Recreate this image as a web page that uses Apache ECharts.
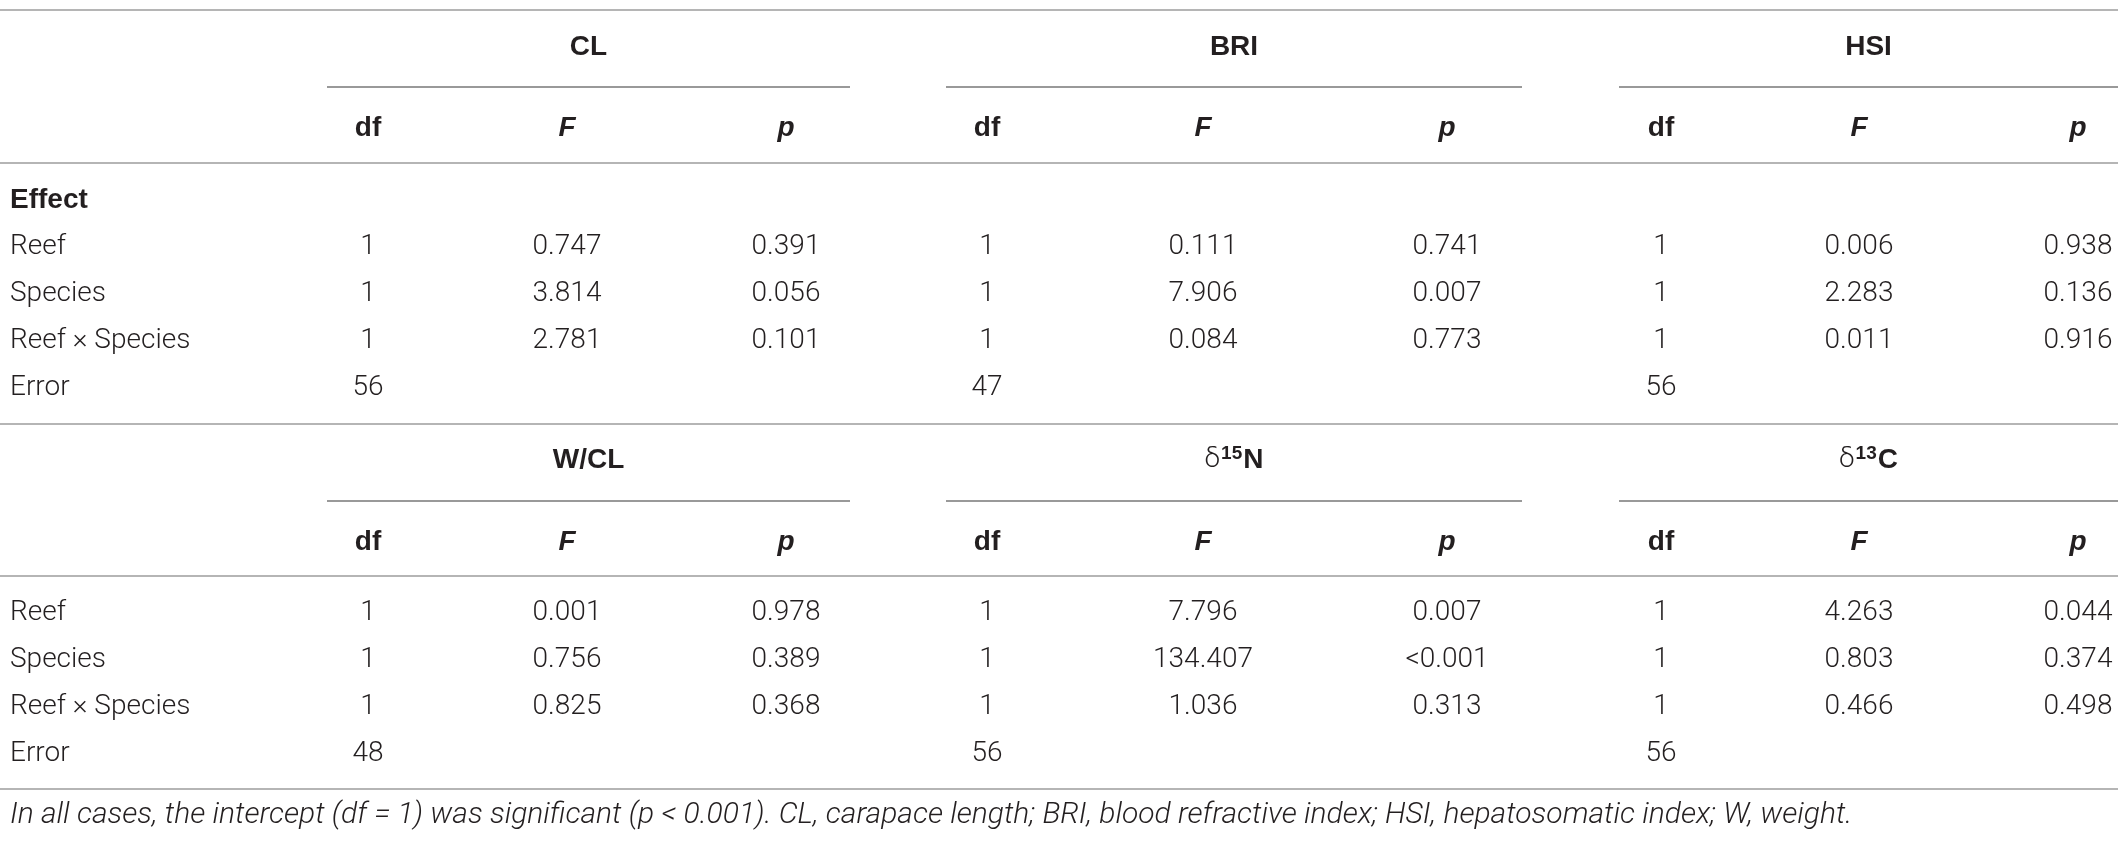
<!DOCTYPE html>
<html>
<head>
<meta charset="utf-8">
<script src="https://cdn.jsdelivr.net/npm/echarts@6/dist/echarts.min.js"></script>
<style>
  html, body { margin: 0; padding: 0; background: #fff; }
  #chart { width: 2128px; height: 844px; }
</style>
</head>
<body>
<div id="chart"></div>
<script>
// table content
var effects = ['Reef', 'Species', 'Reef × Species'];
var topMeasures = ['CL', 'BRI', 'HSI'];
var bottomMeasures = ['W/CL', 'δ15N', 'δ13C'];
var colHeads = ['df', 'F', 'p'];

var dfCL = [1, 1, 1], fCL = [0.747, 3.814, 2.781], pCL = [0.391, 0.056, 0.101], errCL = 56;
var dfBRI = [1, 1, 1], fBRI = [0.111, 7.906, 0.084], pBRI = [0.741, 0.007, 0.773], errBRI = 47;
var dfHSI = [1, 1, 1], fHSI = [0.006, 2.283, 0.011], pHSI = [0.938, 0.136, 0.916], errHSI = 56;
var dfWCL = [1, 1, 1], fWCL = [0.001, 0.756, 0.825], pWCL = [0.978, 0.389, 0.368], errWCL = 48;
var dfN15 = [1, 1, 1], fN15 = [7.796, 134.407, 1.036], pN15 = [0.007, '<0.001', 0.313], errN15 = 56;
var dfC13 = [1, 1, 1], fC13 = [4.263, 0.803, 0.466], pC13 = [0.044, 0.374, 0.498], errC13 = 56;

var caption = 'In all cases, the intercept (df = 1) was significant (p < 0.001). CL, carapace length; BRI, blood refractive index; HSI, hepatosomatic index; W, weight.';

// layout (pixel units on hidden value axes)
var W = 2128, H = 844;
var labelX = 10;
var colX = [[368, 567, 786], [987, 1203, 1447], [1661, 1859, 2078]];
var spanX = [[327, 850], [946, 1522], [1619, 2118]];
var blocks = [
  { top: 10, group: 47, sub: 87, head: 128, rule: 163, effect: 200, rows: [247, 294, 341, 388] },
  { top: 424, group: 460, sub: 501, head: 542, rule: 576, effect: null, rows: [613, 660, 707, 754] }
];
var bottomRule = 789, captionY = 815;

var TEXT = '#231f20';
var bodyFont = '300 28px Roboto, "Liberation Sans", sans-serif';
var boldFont = 'bold 28px "Liberation Sans", Arial, sans-serif';
var boldItalic = 'italic bold 28px "Liberation Sans", Arial, sans-serif';
var captionFont = 'italic 300 30px Roboto, "Liberation Sans", sans-serif';

function fmt(v) { return typeof v === 'number' ? v.toFixed(3) : v; }

var blockData = [
  [[dfCL, fCL, pCL, errCL], [dfBRI, fBRI, pBRI, errBRI], [dfHSI, fHSI, pHSI, errHSI]],
  [[dfWCL, fWCL, pWCL, errWCL], [dfN15, fN15, pN15, errN15], [dfC13, fC13, pC13, errC13]]
];
var blockNames = [topMeasures, bottomMeasures];

var cells = [];
var rules = [];
function cell(x, y, text, kind, align) { cells.push({ x: x, y: y, text: text, kind: kind, align: align || 'center' }); }

blocks.forEach(function (b, bi) {
  rules.push([0, 2118, b.top, '#b5b5b5']);
  spanX.forEach(function (s) { rules.push([s[0], s[1], b.sub, '#999']); });
  rules.push([0, 2118, b.rule, '#b5b5b5']);
  if (b.effect) cell(labelX, b.effect, 'Effect', 'bold', 'left');
  blockNames[bi].forEach(function (name, m) {
    cell((spanX[m][0] + spanX[m][1]) / 2, b.group, name, 'group');
    colHeads.forEach(function (h, c) { cell(colX[m][c], b.head, h, c === 0 ? 'bold' : 'boldItalic'); });
    var d = blockData[bi][m];
    effects.forEach(function (e, r) {
      cell(colX[m][0], b.rows[r], String(d[0][r]), 'body');
      cell(colX[m][1], b.rows[r], fmt(d[1][r]), 'body');
      cell(colX[m][2], b.rows[r], fmt(d[2][r]), 'body');
    });
    cell(colX[m][0], b.rows[3], String(d[3]), 'body');
  });
  effects.concat(['Error']).forEach(function (e, r) { cell(labelX, b.rows[r], e, 'body', 'left'); });
});
rules.push([0, 2118, bottomRule, '#b5b5b5']);
cell(labelX, captionY, caption, 'caption', 'left');

function groupRich(name) {
  var m = /^δ(\d+)(\w+)$/.exec(name);
  if (!m) return '{b|' + name + '}';
  return '{d|δ}{s|' + m[1] + '}{b|' + m[2] + '}';
}

var chart = echarts.init(document.getElementById('chart'), null, { renderer: 'canvas' });
chart.setOption({
  backgroundColor: '#fff',
  animation: false,
  grid: { left: 0, right: 0, top: 0, bottom: 0 },
  xAxis: { type: 'value', min: 0, max: W, show: false },
  yAxis: { type: 'value', min: 0, max: H, inverse: true, show: false },
  series: [
    {
      type: 'custom',
      data: rules.map(function (r, i) { return [r[0], r[2], r[1], i]; }),
      renderItem: function (params, api) {
        var r = rules[api.value(3)];
        var a = api.coord([r[0], r[2]]);
        var b = api.coord([r[1], r[2]]);
        return {
          type: 'line',
          shape: { x1: a[0], y1: a[1], x2: b[0], y2: b[1] },
          style: { stroke: r[3], lineWidth: 2 }
        };
      }
    },
    {
      type: 'custom',
      data: cells.map(function (c, i) { return [c.x, c.y, i]; }),
      renderItem: function (params, api) {
        var c = cells[api.value(2)];
        var p = api.coord([c.x, c.y]);
        var style = { fill: TEXT, align: c.align, verticalAlign: 'middle' };
        if (c.kind === 'group') {
          style.text = groupRich(c.text);
          style.rich = {
            b: { font: boldFont, fill: TEXT },
            d: { font: '300 28px Roboto, sans-serif', fill: TEXT },
            s: { font: 'bold 19px "Liberation Sans", Arial, sans-serif', fill: TEXT, verticalAlign: 'top', padding: [0, 1, 12, 1] }
          };
        } else {
          style.text = c.text;
          style.font = c.kind === 'bold' ? boldFont
            : c.kind === 'boldItalic' ? boldItalic
            : c.kind === 'caption' ? captionFont
            : bodyFont;
        }
        return { type: 'text', x: p[0], y: p[1], style: style };
      }
    }
  ]
});
</script>
</body>
</html>
